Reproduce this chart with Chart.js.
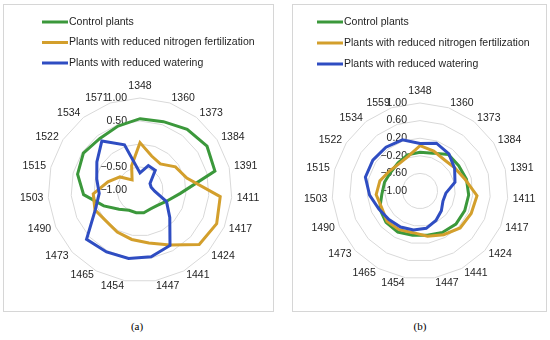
<!DOCTYPE html>
<html>
<head>
<meta charset="utf-8">
<script src="https://cdn.jsdelivr.net/npm/chart.js@4/dist/chart.umd.min.js"></script>
<style>
  html, body { margin: 0; padding: 0; background: #fff; }
  body { width: 550px; height: 340px; position: relative; overflow: hidden; }
  .panel { position: absolute; top: 4px; height: 306px; border: 1px solid #d6d6d6; }
  #panel-a { left: 3px; width: 269px; }
  #panel-b { left: 292px; width: 253px; }
  .panel canvas { position: absolute; left: 0; top: 0; }
  .cap { position: absolute; top: 320px; width: 40px; text-align: center;
         font: 11px "Liberation Serif", serif; color: #000; }
</style>
</head>
<body>
<div class="panel" id="panel-a"><canvas id="chart-a" width="269" height="306"></canvas></div>
<div class="panel" id="panel-b"><canvas id="chart-b" width="253" height="306"></canvas></div>
<div class="cap" style="left:117px">(a)</div>
<div class="cap" style="left:400px">(b)</div>
<script>
// Categories (wavenumbers)
const labelsA = ["1348", "1360", "1373", "1384", "1391", "1411", "1417", "1424", "1441", "1447",
	"1454", "1465", "1473", "1490", "1503", "1515", "1522", "1534", "1571"];
const labelsB = ["1348", "1360", "1373", "1384", "1391", "1411", "1417", "1424", "1441", "1447",
	"1454", "1465", "1473", "1490", "1503", "1515", "1522", "1534", "1559"];

const seriesNames = ["Control plants", "Plants with reduced nitrogen fertilization", "Plants with reduced watering"];

// Panel (a)
const controlA = [0.55, 0.57, 0.67, 0.74, 0.68, -0.12, -0.38, -0.50, -0.53, -0.50, -0.50, -0.50, -0.38, -0.14, 0.23, 0.40, 0.47, 0.42, 0.47];
const nitrogenA = [0.03, -0.22, -0.28, -0.08, 0.05, 0.75, 0.82, 0.75, 0.36, 0.17, 0.09, 0.04, 0.00, 0.07, 0.02, -0.28, -0.48, -0.72, -0.44];
const wateringA = [-0.63, -0.44, -0.46, -0.74, -0.75, -0.68, -0.37, -0.12, 0.37, 0.47, 0.51, 0.53, 0.58, 0.06, -0.11, -0.03, 0.12, 0.35, 0.04];

// Panel (b)
const controlB = [-0.12, -0.09, 0.05, 0.05, 0.09, 0.11, 0.11, 0.11, 0.07, 0.02, 0.02, 0.06, 0.05, 0.00, -0.13, -0.17, -0.21, -0.19, -0.13];
const nitrogenB = [0.03, -0.04, -0.10, -0.05, 0.06, 0.30, 0.27, 0.24, 0.13, 0.04, -0.04, 0.00, 0.02, -0.05, 0.00, -0.06, -0.17, -0.22, -0.17];
const wateringB = [0.08, 0.15, 0.07, -0.06, -0.18, -0.41, -0.43, -0.34, -0.24, -0.14, -0.10, -0.07, -0.04, 0.02, 0.15, 0.28, 0.28, 0.26, 0.23];

// Radial axis ticks
const ticksA = [-1, -0.5, 0, 0.5, 1];
const ticksB = [-1, -0.6, -0.2, 0.2, 0.6, 1];

const COLORS = ["#3b983b", "#d39f2c", "#2f4dc2"];
const FONT = "Liberation Sans";
const TEXT = "#1e1e1e";

// Axis values left of the vertical spoke, right aligned, under the lines
const tickLabels = {
	id: "tickLabels",
	beforeDatasetsDraw(chart, args, opts) {
		const r = chart.scales.r;
		const ctx = chart.ctx;
		ctx.save();
		ctx.font = `10.5px "${FONT}"`;
		ctx.fillStyle = TEXT;
		ctx.textAlign = "right";
		ctx.textBaseline = "middle";
		opts.values.forEach((v) => {
			if (opts.hideZero && v === 0) return;
			const y = r.yCenter - r.getDistanceFromCenterForValue(v);
			const txt = (v < 0 ? "\u2212" : "") + Math.abs(v).toFixed(2);
			ctx.fillText(txt, r.xCenter - 13, y);
		});
		ctx.restore();
	},
};

// Category labels placed the way the spreadsheet does it: middle-aligned beside each spoke end
const spokeLabels = {
	id: "spokeLabels",
	afterDraw(chart) {
		const r = chart.scales.r;
		const ctx = chart.ctx;
		ctx.save();
		ctx.font = `10.5px "${FONT}"`;
		ctx.fillStyle = TEXT;
		chart.data.labels.forEach((lab, i) => {
			const p = r.getPointPosition(i, r.drawingArea + 5);
			const s = Math.sin(r.getIndexAngle(i));
			if (Math.abs(s) < 0.01) {
				ctx.textAlign = "center";
				ctx.textBaseline = "middle";
				ctx.fillText(lab, p.x, p.y - 6.5);
			} else {
				ctx.textAlign = s > 0 ? "left" : "right";
				ctx.textBaseline = "middle";
				ctx.fillText(lab, p.x, p.y);
			}
		});
		ctx.restore();
	},
};

// Stacked legend in the top left of each panel
const stackLegend = {
	id: "stackLegend",
	afterDraw(chart, args, opts) {
		const ctx = chart.ctx;
		ctx.save();
		chart.data.datasets.forEach((ds, i) => {
			const y = opts.y + i * opts.gap;
			ctx.strokeStyle = ds.borderColor;
			ctx.lineWidth = 3;
			ctx.beginPath();
			ctx.moveTo(opts.x, y);
			ctx.lineTo(opts.x + 26, y);
			ctx.stroke();
			ctx.font = `10.5px "${FONT}"`;
			ctx.fillStyle = TEXT;
			ctx.textBaseline = "middle";
			ctx.fillText(ds.label, opts.x + 27, y);
		});
		ctx.restore();
	},
};

const makeDatasets = (series) =>
	series.map((data, i) => ({
		label: seriesNames[i],
		data: data,
		borderColor: COLORS[i],
		backgroundColor: COLORS[i],
		borderWidth: 3,
		pointRadius: 0,
		fill: false,
		tension: 0,
		order: 2 - i,
	}));

const makeChart = (id, labels, series, ticks, padding, legendPos, hideZero) => {
	return new Chart(document.getElementById(id), {
		type: "radar",
		data: { labels: labels, datasets: makeDatasets(series) },
		options: {
			responsive: false,
			animation: false,
			layout: { padding: padding },
			plugins: {
				legend: { display: false },
				tooltip: { enabled: false },
				tickLabels: { values: ticks, hideZero: hideZero },
				stackLegend: legendPos,
			},
			scales: {
				r: {
					min: ticks[0],
					max: ticks[ticks.length - 1],
					ticks: { stepSize: ticks[1] - ticks[0], display: false },
					grid: { color: "#d9d9d9", lineWidth: 1 },
					angleLines: { display: false },
					pointLabels: { display: false },
				},
			},
		},
		plugins: [tickLabels, spokeLabels, stackLegend],
	});
};

makeChart("chart-a", labelsA, [controlA, nitrogenA, wateringA], ticksA,
	{ top: 93, bottom: 28, left: 44, right: 40 }, { x: 38, y: 17, gap: 20.5 }, true);
makeChart("chart-b", labelsB, [controlB, nitrogenB, wateringB], ticksB,
	{ top: 98, bottom: 32, left: 39, right: 38 }, { x: 24, y: 17, gap: 21 }, false);
</script>
</body>
</html>
